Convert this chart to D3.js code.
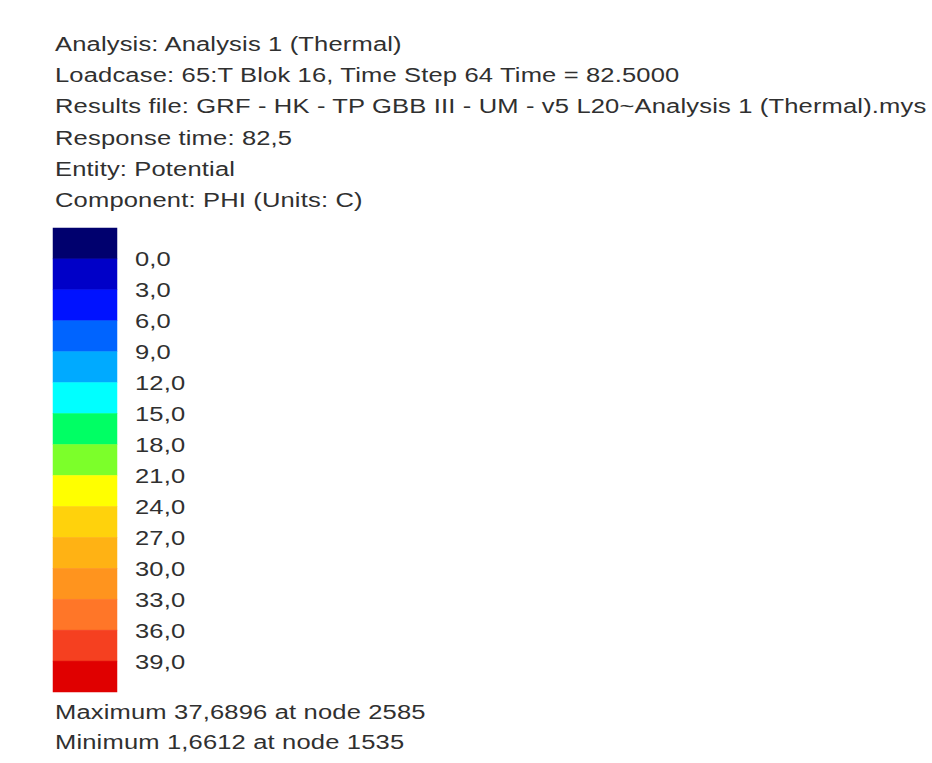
<!DOCTYPE html>
<html>
<head>
<meta charset="utf-8">
<script src="https://cdn.jsdelivr.net/npm/d3@7"></script>
<style>
    body { margin: 0; background: #ffffff; }
    svg text { font-family: "Liberation Sans", Arial, sans-serif; fill: #303030; }
</style>
</head>
<body>
<div id="legend"></div>
<script>
// header lines of the contour legend
var headerLines = [
    'Analysis: Analysis 1 (Thermal)',
    'Loadcase: 65:T Blok 16, Time Step 64 Time = 82.5000',
    'Results file: GRF - HK - TP GBB III - UM - v5 L20~Analysis 1 (Thermal).mys',
    'Response time: 82,5',
    'Entity: Potential',
    'Component: PHI (Units: C)'
];

// contour levels (band boundaries) and band colours, low to high
var levelValues = [0, 3, 6, 9, 12, 15, 18, 21, 24, 27, 30, 33, 36, 39];
var bandColors = [
    '#00006e', '#0000c8', '#0012ff', '#0064ff', '#00aaff',
    '#00ffff', '#00ff64', '#7cff2a', '#ffff00', '#ffd20c',
    '#ffb214', '#ff941e', '#ff7628', '#f54020', '#e00000'
];

var extremes = [
    { label: 'Maximum', value: '37,6896', node: 2585 },
    { label: 'Minimum', value: '1,6612', node: 1535 }
];

var width = 932;
var height = 763;
var fontSize = 19.5;
var stretch = 1.31; // the reference text is drawn wide

var svg = d3.select('#legend')
    .append('svg')
    .attr('width', width)
    .attr('height', height);

function wideText(sel, x, y, txt) {
    return sel.append('text')
        .attr('transform', 'translate(' + x + ',' + y + ') scale(' + stretch + ',1)')
        .style('font-size', fontSize + 'px')
        .style('letter-spacing', '0.12px')
        .text(txt);
}

// header
headerLines.forEach(function (line, i) {
    wideText(svg, 55, 51 + i * 31.2, line);
});

// colour bar: one band per interval, edges one step below first and above last level
var step = levelValues[1] - levelValues[0];
var bandEdges = [levelValues[0] - step].concat(levelValues, [levelValues[levelValues.length - 1] + step]);

var y = d3.scaleLinear()
    .domain([bandEdges[0], bandEdges[bandEdges.length - 1]])
    .range([228, 692]);

var bar = svg.append('g');
bar.selectAll('rect')
    .data(bandColors)
    .enter()
    .append('rect')
    .attr('x', 53)
    .attr('width', 64)
    .attr('y', function (d, i) { return y(bandEdges[i]); })
    .attr('height', function (d, i) { return y(bandEdges[i + 1]) - y(bandEdges[i]); })
    .attr('fill', function (d) { return d; })
    .attr('stroke', function (d) { return d; })
    .attr('stroke-width', 0.5);

// level labels at the band boundaries
var fmt = function (v) { return v.toFixed(1).replace('.', ','); };
levelValues.forEach(function (v) {
    wideText(bar, 135, y(v) + 7.5, fmt(v));
});

// max / min lines
extremes.forEach(function (e, i) {
    wideText(svg, 55, 719 + i * 30, e.label + ' ' + e.value + ' at node ' + e.node);
});
</script>
</body>
</html>
